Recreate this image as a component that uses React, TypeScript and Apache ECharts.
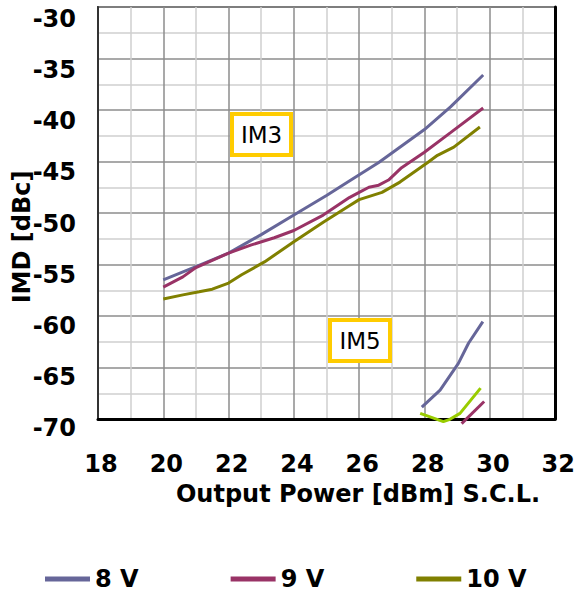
import React, { useEffect, useRef } from "react";
import * as echarts from "echarts";

// Axis setup
const xMin = 18;
const xMax = 32;
const xStep = 2;
const yMin = -70;
const yMax = -30;
const yStep = 5;

const legendNames = ["8 V", "9 V", "10 V"];

// IM3 curves [output power dBm, IMD dBc]
const im3V8: [number, number][] = [
  [20, -56.5], [21, -55.2], [22, -53.9], [23, -52.1], [24, -50.2], [25, -48.3],
  [25.7, -46.9], [26.6, -45.1], [28, -41.9], [28.8, -39.7], [29.8, -36.6],
];
const im3V9: [number, number][] = [
  [20, -57.2], [20.6, -56.2], [21, -55.3], [22, -53.9], [22.7, -53.1], [23.4, -52.4],
  [24, -51.7], [24.9, -50.2], [25.7, -48.5], [26, -48.0], [26.3, -47.5], [26.6, -47.3],
  [26.9, -46.8], [27.3, -45.6], [28, -44.1], [28.8, -42.2], [29.8, -39.8],
];
const im3V10: [number, number][] = [
  [20, -58.35], [20.6, -57.95], [21.1, -57.65], [21.5, -57.4], [22, -56.8], [22.4, -56.0],
  [23.1, -54.75], [24, -52.8], [24.9, -50.9], [25.7, -49.3], [26, -48.7], [26.7, -48.0],
  [27.25, -47.0], [28.1, -45.1], [28.4, -44.4], [28.9, -43.6], [29.7, -41.65],
];

// IM5 curves
const im5V8: [number, number][] = [
  [27.92, -68.85], [28.48, -67.2], [29.04, -64.6], [29.35, -62.65], [29.79, -60.55],
];
const im5V9: [number, number][] = [
  [29.14, -70.45], [29.83, -68.3],
];
const im5V10: [number, number][] = [
  [27.87, -69.45], [28.58, -70.25], [28.78, -70.03], [29.09, -69.45], [29.72, -67.0],
];

const colors = {
  v8: "#666699",
  v9: "#993366",
  v10: "#808000",
  v10im5: "#99CC00",
};

const FONT = "DejaVu Sans";

export default function App() {
  const ref = useRef<HTMLDivElement>(null);

  useEffect(() => {
    if (!ref.current) return;
    const chart = echarts.init(ref.current, null, { renderer: "svg" });

    const lineSeries = (name: string, data: [number, number][], color: string, clip = true) => ({
      type: "line" as const,
      name,
      data,
      xAxisIndex: 0,
      yAxisIndex: 0,
      showSymbol: false,
      symbol: "none",
      clip,
      color,
      lineStyle: { color, width: 3 },
      z: 5,
    });

    const tickFont = {
      color: "#000",
      fontFamily: FONT,
      fontWeight: "bold",
      fontSize: 24,
    };

    const option: any = {
      animation: false,
      backgroundColor: "#ffffff",
      grid: [
        {
          left: 98,
          top: 7,
          right: 23,
          bottom: 173,
          show: true,
          borderColor: "#555555",
          borderWidth: 2,
          backgroundColor: "transparent",
        },
        {
          left: 101,
          right: 19,
          top: 19,
          bottom: 164,
          show: false,
        },
      ],
      xAxis: [
        {
          type: "value",
          gridIndex: 0,
          min: xMin,
          max: xMax,
          interval: xStep,
          axisLine: { show: true, onZero: false, lineStyle: { color: "#000", width: 3 } },
          axisTick: { show: false },
          axisLabel: { show: false },
          splitLine: { show: true, lineStyle: { color: "#8c8c8c", width: 1.5 } },
          minorTick: { show: false, splitNumber: 2 },
          minorSplitLine: { show: true, lineStyle: { color: "#cfcfcf", width: 1.5 } },
        },
        {
          type: "value",
          gridIndex: 1,
          min: xMin,
          max: xMax,
          interval: xStep,
          axisLine: { show: false },
          axisTick: { show: false },
          splitLine: { show: false },
          axisLabel: { show: true, margin: 24, ...tickFont },
        },
      ],
      yAxis: [
        {
          type: "value",
          gridIndex: 0,
          min: yMin,
          max: yMax,
          interval: yStep,
          axisLine: { show: true, onZero: false, lineStyle: { color: "#333", width: 2 } },
          axisTick: { show: false },
          axisLabel: { show: false },
          splitLine: { show: true, lineStyle: { color: "#8c8c8c", width: 1.5 } },
          minorTick: { show: false, splitNumber: 2 },
          minorSplitLine: { show: true, lineStyle: { color: "#cfcfcf", width: 1.5 } },
        },
        {
          type: "value",
          gridIndex: 1,
          min: yMin,
          max: yMax,
          interval: yStep,
          axisLine: { show: false },
          axisTick: { show: false },
          splitLine: { show: false },
          axisLabel: { show: true, margin: 25, ...tickFont },
        },
        {
          type: "value",
          gridIndex: 0,
          position: "right",
          min: yMin,
          max: yMax,
          interval: yStep,
          axisLine: { show: true, onZero: false, lineStyle: { color: "#000", width: 3 } },
          axisTick: { show: false },
          axisLabel: { show: false },
          splitLine: { show: false },
        },
      ],
      legend: {
        data: legendNames,
        left: 40,
        top: 562,
        icon: "rect",
        itemWidth: 45,
        itemHeight: 5,
        itemGap: 92,
        textStyle: {
          color: "#000",
          fontFamily: FONT,
          fontWeight: "bold",
          fontSize: 24,
        },
      },
      series: [
        lineSeries("8 V", im3V8, colors.v8),
        lineSeries("9 V", im3V9, colors.v9),
        lineSeries("10 V", im3V10, colors.v10),
        lineSeries("8 V IM5", im5V8, colors.v8, false),
        lineSeries("9 V IM5", im5V9, colors.v9, false),
        lineSeries("10 V IM5", im5V10, colors.v10im5, false),
      ],
      graphic: [
        {
          type: "text",
          x: 358,
          y: 494,
          style: {
            text: "Output Power [dBm] S.C.L.",
            fontFamily: FONT,
            fontWeight: "bold",
            fontSize: 24,
            fill: "#000",
            align: "center",
            verticalAlign: "middle",
          },
        },
        {
          type: "text",
          x: 22,
          y: 237,
          rotation: Math.PI / 2,
          style: {
            text: "IMD [dBc]",
            fontFamily: FONT,
            fontWeight: "bold",
            fontSize: 24,
            fill: "#000",
            align: "center",
            verticalAlign: "middle",
          },
        },
        {
          type: "rect",
          shape: { x: 232, y: 114, width: 59, height: 41 },
          style: { fill: "#ffffff", stroke: "#FFCC00", lineWidth: 4 },
          z: 10,
        },
        {
          type: "text",
          x: 261.5,
          y: 135,
          z: 11,
          style: {
            text: "IM3",
            fontFamily: FONT,
            fontSize: 23,
            fill: "#000",
            align: "center",
            verticalAlign: "middle",
          },
        },
        {
          type: "rect",
          shape: { x: 330, y: 320, width: 60, height: 41 },
          style: { fill: "#ffffff", stroke: "#FFCC00", lineWidth: 4 },
          z: 10,
        },
        {
          type: "text",
          x: 360,
          y: 341,
          z: 11,
          style: {
            text: "IM5",
            fontFamily: FONT,
            fontSize: 23,
            fill: "#000",
            align: "center",
            verticalAlign: "middle",
          },
        },
      ],
    };

    chart.setOption(option);
    return () => chart.dispose();
  }, []);

  return (
    <div
      ref={ref}
      style={{ position: "fixed", left: 0, top: 0, width: 578, height: 592 }}
    />
  );
}
